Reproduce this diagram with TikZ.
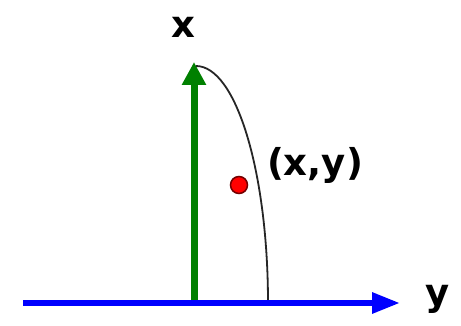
\documentclass[tikz,border=0pt]{standalone}
\usepackage{fontspec}
\setsansfont{DejaVu Sans}
\usetikzlibrary{arrows.meta}
\begin{document}
\begin{tikzpicture}[x=1pt,y=-1pt,
  lbl/.style={font=\sffamily\bfseries\fontsize{37}{40}\selectfont, inner sep=0pt, text=black},
  axisy/.style={draw={rgb,255:red,0;green,0;blue,255}, line width=6pt, -{Triangle[length=28pt,width=20pt]}},
  axisx/.style={draw={rgb,255:red,0;green,128;blue,0}, line width=7pt, -{Triangle[length=23pt,width=23pt]}},
  curve/.style={draw=black!85, line width=1.8pt},
  dot/.style={circle, fill=red, draw=red!45!black, line width=1.5pt, minimum size=17pt, inner sep=0pt}]
\useasboundingbox (0,0) rectangle (461,326);
\fill[white] (0,0) rectangle (461,326);
\coordinate (ystart) at (23,303);
\coordinate (yend) at (400,303);
\coordinate (o) at (194,303);
\coordinate (xend) at (194,62);
\coordinate (ctop) at (196,66);
\coordinate (cbot) at (268,303);
\draw[axisx] (o) -- (xend);
\draw[curve] (ctop) .. controls (236,66) and (268,172) .. (cbot);
\draw[axisy] (ystart) -- (yend);
\node[dot] (p) at (239,185) {};
\node[lbl] (xl) at (183,27) {x};
\node[lbl] (yl) at (438,299) {y};
\node[lbl] (pl) at (315,165) {(x,y)};
\end{tikzpicture}
\end{document}
